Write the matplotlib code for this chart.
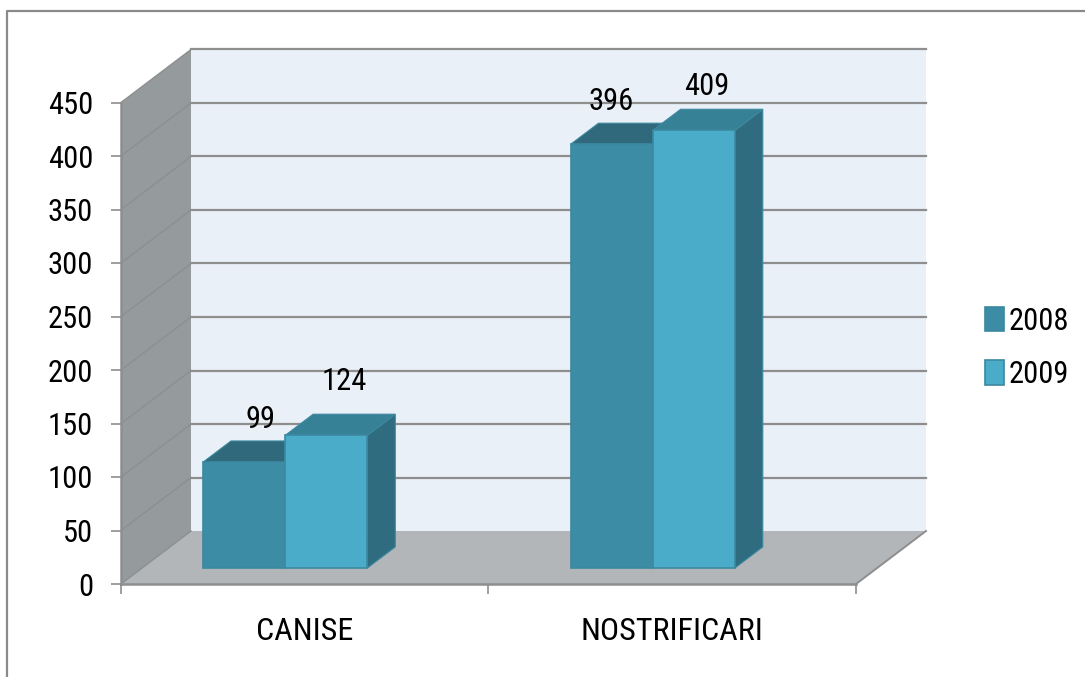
import matplotlib
matplotlib.use("Agg")
import matplotlib.pyplot as plt
from matplotlib import font_manager as fm
from matplotlib.lines import Line2D
from matplotlib.patches import Patch, Polygon

# narrow face like the original, falls back to plain Liberation Sans
installed = set(f.name for f in fm.fontManager.ttflist)
for name in ["Roboto Condensed", "Archivo Narrow", "Liberation Sans"]:
    if name in installed:
        plt.rcParams["font.family"] = [name, "DejaVu Sans"]
        break

# DATA
categories = ["CANISE", "NOSTRIFICARI"]
years = ["2008", "2009"]
values_2008 = [99, 396]
values_2009 = [124, 409]
y_ticks = [0, 50, 100, 150, 200, 250, 300, 350, 400, 450]

# label nudges in points (the labels are not placed regularly in the original)
label_nudge_2008 = [(12, 31), (0, 31)]
label_nudge_2009 = [(13, 39), (9, 32)]

# COLORS
FRONT = ["#3c8ca6", "#4aacc8"]
TOP = ["#2f697b", "#378197"]
SIDE = ["#2f6a7c", "#306c7f"]
EDGE = "#3b88a0"
WALL = "#e9f0f7"
SIDE_WALL = "#959a9c"
FLOOR = "#b2b6b9"
GRID = "#8e8e8e"

W, H = 1085, 677
FONT_SIZE = 22

fig = plt.figure(figsize=(W / 100, H / 100), dpi=100)
ax = fig.add_axes([121 / W, (H - 584) / H, 735 / W, 481.5 / H])
ax.set_xlim(0, 2)
ax.set_ylim(0, 450)
ax.patch.set_visible(False)

# size of one pixel in data units
PX = 2 / 735
PY = 450 / 481.5

# depth of the 3D box
DX = 70 * PX
DY = 53 * PY

# bar layout, depth goes 0 (front) to 1 (back wall)
BAR_START = 0.166
BAR_W = 0.2235
DEPTH_A = 0.30
DEPTH_B = 0.70


def poly(points, color, edge="none", lw=0, z=1):
    ax.add_patch(Polygon(points, closed=True, facecolor=color, edgecolor=edge,
                         linewidth=lw, zorder=z, clip_on=False))


def draw_bar(x0, value, i):
    x1 = x0 + BAR_W
    xa, ya = DEPTH_A * DX, DEPTH_A * DY
    xb, yb = DEPTH_B * DX, DEPTH_B * DY
    # side, top, front
    poly([(x1 + xa, ya), (x1 + xb, yb), (x1 + xb, value + yb), (x1 + xa, value + ya)],
         SIDE[i], EDGE, 0.8, 5)
    poly([(x0 + xa, value + ya), (x1 + xa, value + ya), (x1 + xb, value + yb), (x0 + xb, value + yb)],
         TOP[i], EDGE, 0.8, 5)
    poly([(x0 + xa, ya), (x1 + xa, ya), (x1 + xa, value + ya), (x0 + xa, value + ya)],
         FRONT[i], EDGE, 1.2, 5)


# walls and floor
poly([(DX, DY), (2 + DX, DY), (2 + DX, 450 + DY), (DX, 450 + DY)], WALL, z=1)
poly([(0, 0), (DX, DY), (DX, 450 + DY), (0, 450)], SIDE_WALL, z=1)
poly([(0, 0), (2, 0), (2 + DX, DY), (DX, DY)], FLOOR, z=1)

# gridlines, side wall then back wall
for t in y_ticks:
    ax.plot([0, DX], [t, t + DY], color=GRID, lw=1.0, zorder=2, clip_on=False)
    if t > 0:
        ax.plot([DX, 2 + DX], [t + DY, t + DY], color=GRID, lw=1.6, zorder=2, clip_on=False)
ax.plot([2, 2 + DX], [0, DY], color=GRID, lw=1.4, zorder=3, clip_on=False)

# bars and labels
for c in range(len(categories)):
    for i, series in enumerate([values_2008, values_2009]):
        x0 = c + BAR_START + i * BAR_W
        draw_bar(x0, series[c], i)
        nudge = [label_nudge_2008, label_nudge_2009][i][c]
        ax.annotate(str(series[c]),
                    xy=(x0 + BAR_W / 2 + DEPTH_A * DX, series[c] + DEPTH_A * DY),
                    xytext=nudge, textcoords="offset points",
                    ha="center", va="center", fontsize=FONT_SIZE, color="black", zorder=6)

# axes
for s in ["top", "right"]:
    ax.spines[s].set_visible(False)
for s in ["left", "bottom"]:
    ax.spines[s].set_color(GRID)
    ax.spines[s].set_linewidth(1.8)
    ax.spines[s].set_zorder(4)

ax.set_yticks(y_ticks)
ax.tick_params(axis="y", length=7.2, width=1.2, color=GRID, pad=13, labelsize=FONT_SIZE)
ax.set_xticks([0, 1, 2])
ax.set_xticklabels([])
ax.tick_params(axis="x", which="major", length=7.2, width=1.2, color=GRID)
ax.set_xticks([0.5, 1.5], minor=True)
ax.set_xticklabels(categories, minor=True, fontsize=23)
ax.tick_params(axis="x", which="minor", length=0, pad=24)

# legend
handles = [Patch(facecolor=FRONT[i], edgecolor=EDGE, linewidth=1.2, label=years[i]) for i in range(2)]
fig.legend(handles=handles, loc="center left", bbox_to_anchor=(961 / W, (H - 348) / H),
           frameon=False, fontsize=FONT_SIZE, handlelength=0.6, handleheight=0.85,
           handletextpad=0.17, labelspacing=0.8, borderpad=0.3)

# chart border
fig.add_artist(Line2D([7 / W, 7 / W, 1], [0, 1 - 11 / H, 1 - 11 / H], color="#8a8a8a", lw=1.6))

fig.savefig("out.png", dpi=100, facecolor="white")
